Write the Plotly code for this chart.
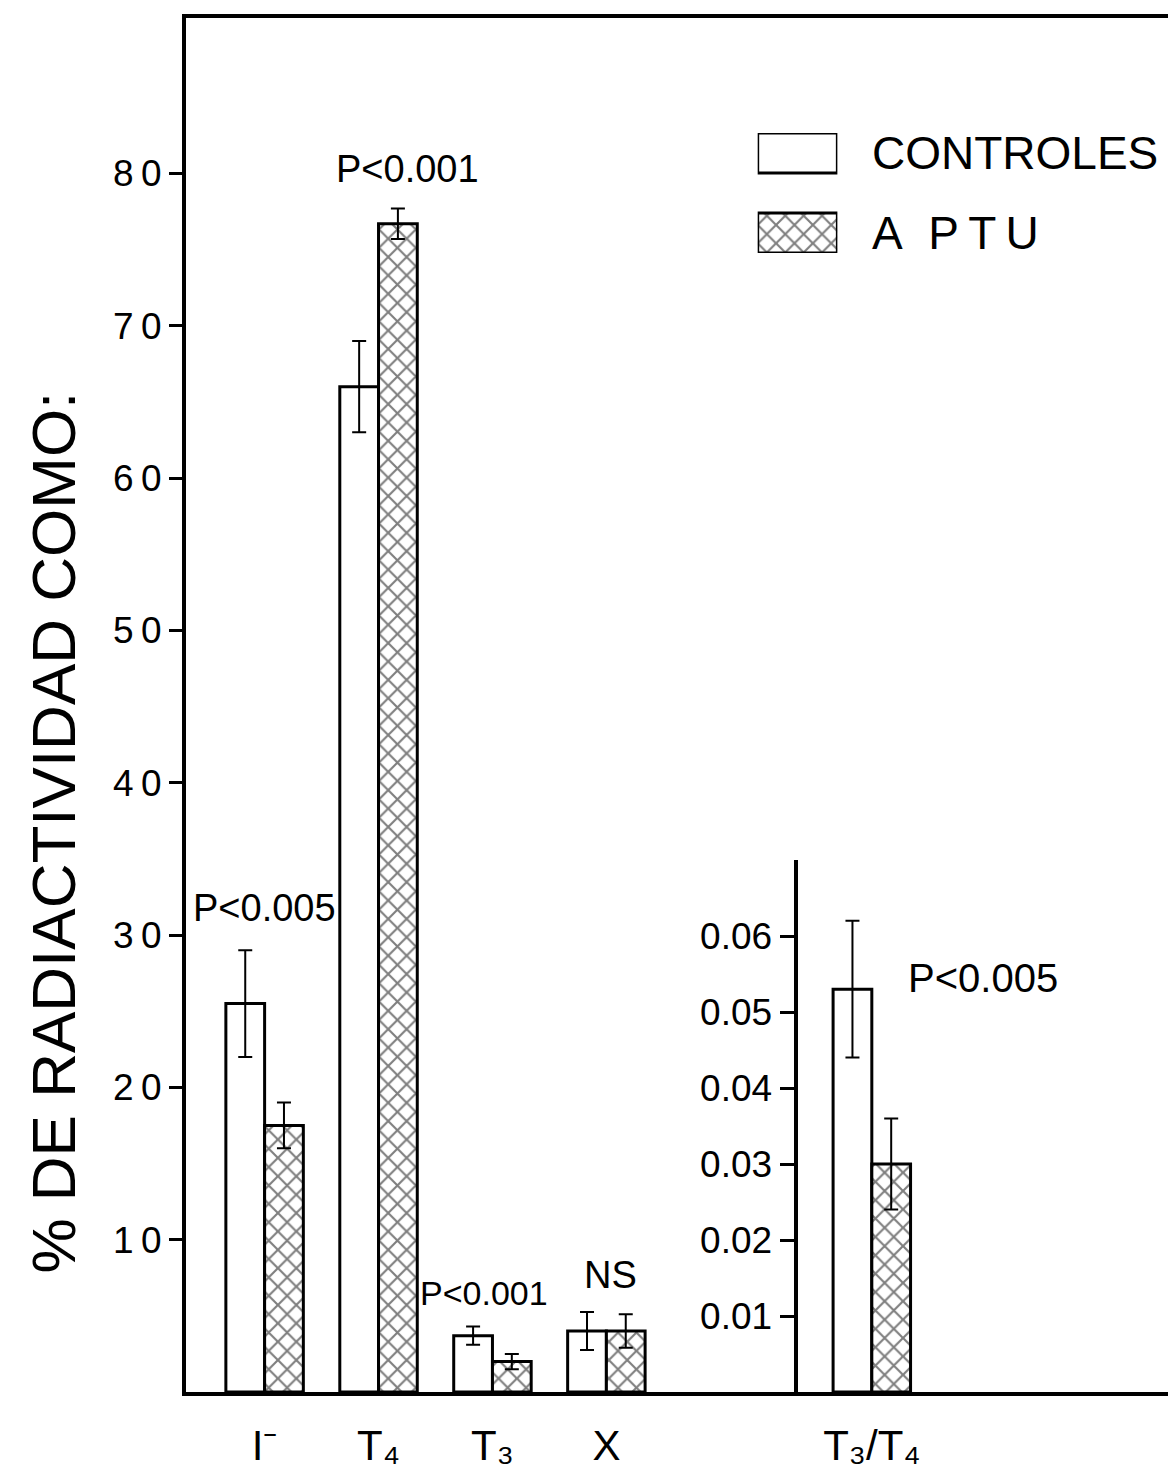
import plotly.graph_objects as go

# ---- data ----
categories = ["I-", "T4", "T3", "X"]
cat_pos = [0, 1, 2, 3]
tick_labels = ["I\u207b", "T\u2084", "T\u2083", "X", "T\u2083/T\u2084"]
controles = [25.5, 66.0, 3.7, 4.0]
controles_err = [3.5, 3.0, 0.6, 1.25]
aptu = [17.5, 76.7, 2.0, 4.0]
aptu_err = [1.5, 1.0, 0.5, 1.1]

ratio_pos = [5.33]
ratio_controles = [0.053]
ratio_controles_err = [0.009]
ratio_aptu = [0.030]
ratio_aptu_err = [0.006]

p_labels = ["P<0.005", "P<0.001", "P<0.001", "NS"]
ratio_p_label = "P<0.005"

left_ticks = [10, 20, 30, 40, 50, 60, 70, 80]
right_ticks = [0.01, 0.02, 0.03, 0.04, 0.05, 0.06]

FONT = "Liberation Sans"
BW = 0.34
pattern = dict(shape="x", fgcolor="black", bgcolor="white", size=13, solidity=0.3)
line = dict(color="black", width=3)
err_style = dict(type="data", color="black", thickness=2, width=7)

fig = go.Figure()

fig.add_trace(go.Bar(x=cat_pos, y=controles, width=BW, offset=-BW,
                     marker=dict(color="white", line=line),
                     error_y=dict(array=controles_err, **err_style),
                     xaxis="x", yaxis="y", showlegend=False, name="CONTROLES"))
fig.add_trace(go.Bar(x=cat_pos, y=aptu, width=BW, offset=0,
                     marker=dict(color="white", line=line, pattern=pattern),
                     error_y=dict(array=aptu_err, **err_style),
                     xaxis="x", yaxis="y", showlegend=False, name="A PTU"))
fig.add_trace(go.Bar(x=ratio_pos, y=ratio_controles, width=BW, offset=-BW,
                     marker=dict(color="white", line=line),
                     error_y=dict(array=ratio_controles_err, **err_style),
                     xaxis="x", yaxis="y2", showlegend=False))
fig.add_trace(go.Bar(x=ratio_pos, y=ratio_aptu, width=BW, offset=0,
                     marker=dict(color="white", line=line, pattern=pattern),
                     error_y=dict(array=ratio_aptu_err, **err_style),
                     xaxis="x", yaxis="y2", showlegend=False))

# legend swatches on an auxiliary axis pair
fig.add_trace(go.Bar(x=[0.5], y=[1], base=[2], width=1,
                     marker=dict(color="white", line=line),
                     xaxis="x3", yaxis="y3", showlegend=False, hoverinfo="skip"))
fig.add_trace(go.Bar(x=[0.5], y=[1], base=[0], width=1,
                     marker=dict(color="white", line=line, pattern=pattern),
                     xaxis="x3", yaxis="y3", showlegend=False, hoverinfo="skip"))

W, H = 1176, 1471
L, R, T, B = 178, 4, 10, 87
pw, ph = W - L - R, H - T - B

def px_x(px):
    return (px - L) / pw

def px_y(py):
    return (H - B - py) / ph

fig.update_layout(
    width=W, height=H,
    margin=dict(l=L, r=R, t=T, b=B),
    paper_bgcolor="white", plot_bgcolor="rgba(0,0,0,0)",
    barmode="overlay",
    font=dict(family=FONT, color="black"),
    xaxis=dict(range=[-0.69, 8.0], tickvals=cat_pos + ratio_pos, ticktext=tick_labels,
               showgrid=False, zeroline=False, showline=True, linecolor="black",
               linewidth=4, mirror=True, ticks="", ticklabelstandoff=14,
               tickfont=dict(size=42, family=FONT)),
    yaxis=dict(range=[0, 90.2], tickvals=left_ticks,
               ticktext=["\u2009".join(str(v)) for v in left_ticks],
               showgrid=False, zeroline=False, showline=True, linecolor="black",
               linewidth=4, mirror=True, ticks="outside", ticklen=13, tickwidth=3,
               tickcolor="black", tickfont=dict(size=37, family=FONT)),
    yaxis2=dict(range=[0, 0.07], domain=[0, px_y(852)], anchor="free",
                position=px_x(790), tickvals=right_ticks,
                ticktext=[f"{v:.2f}" for v in right_ticks],
                showgrid=False, zeroline=False, showline=True, linecolor="black",
                linewidth=4, ticks="outside", ticklen=14, tickwidth=3,
                tickcolor="black", tickfont=dict(size=37, family=FONT)),
    xaxis3=dict(domain=[px_x(752), px_x(832)], range=[0, 1], anchor="y3",
                visible=False, fixedrange=True),
    yaxis3=dict(domain=[px_y(245), px_y(125)], range=[0, 3], anchor="x3",
                visible=False, fixedrange=True),
)

ann = []
p_pos = [(0.0, 31.8, 38), (1.25, 80.3, 38), (1.93, 6.5, 34), (3.04, 7.7, 38)]
for lab, (xx, yy, fs) in zip(p_labels, p_pos):
    ann.append(dict(x=xx, y=yy, xref="x", yref="y", text=lab, showarrow=False,
                    font=dict(size=fs, family=FONT)))
ann.append(dict(x=6.31, y=0.0545, xref="x", yref="y2", text=ratio_p_label,
                showarrow=False, font=dict(size=40, family=FONT)))
ann.append(dict(x=px_x(865), y=px_y(145), xref="paper", yref="paper", text="CONTROLES",
                xanchor="left", yanchor="middle", showarrow=False,
                font=dict(size=46, family=FONT)))
ann.append(dict(x=px_x(865), y=px_y(225), xref="paper", yref="paper",
                text="A\u00a0\u00a0P\u2009T\u2009U",
                xanchor="left", yanchor="middle", showarrow=False,
                font=dict(size=46, family=FONT)))
ann.append(dict(x=px_x(45), y=px_y(825), xref="paper", yref="paper",
                text="% DE RADIACTIVIDAD COMO:", textangle=-90,
                xanchor="center", yanchor="middle", showarrow=False,
                font=dict(size=62, family=FONT)))
fig.update_layout(annotations=ann)

fig.write_html("out.html")
